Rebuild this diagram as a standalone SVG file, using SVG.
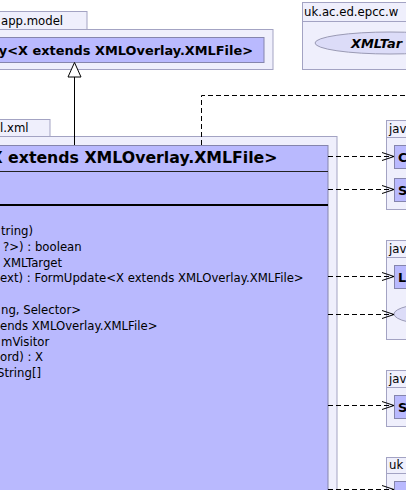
<svg xmlns="http://www.w3.org/2000/svg" width="406" height="490" viewBox="0 0 406 490">
<defs>
<style>
.pkg{fill:#efeffc;stroke:#a3a3c3;stroke-width:1}
.cls{fill:#b9b9fe;stroke:#8585ad;stroke-width:1}
.ell{fill:#dcdcf8;stroke:#9a9ab4;stroke-width:1}
.t{font-family:"DejaVu Sans","Liberation Sans",sans-serif;fill:#000}
.reg{font-size:11.7px}
.bold{font-weight:bold}
.dash{fill:none;stroke:#000;stroke-width:1;stroke-dasharray:5,3}
.solid{fill:none;stroke:#000;stroke-width:1}
</style>
<marker id="open" markerUnits="userSpaceOnUse" markerWidth="14" markerHeight="10" refX="12" refY="4.5" orient="auto">
<path d="M0,0.5 L12,4.5 L0,8.5" fill="none" stroke="#000" stroke-width="1"/>
</marker>
</defs>

<g id="pkg-app-model">
<rect class="pkg" x="-1" y="11.5" width="88" height="18"/>
<rect class="pkg" x="-1" y="29.5" width="274" height="40"/>
<text class="t reg" x="1" y="24.5">app.model</text>
</g>
<g id="class-overlay">
<rect class="cls" x="-1" y="37.5" width="265" height="25"/>
<text class="t bold" font-size="12.9" x="253" y="54.5" text-anchor="end">y&lt;X extends XMLOverlay.XMLFile&gt;</text>
</g>

<g id="pkg-uk-xmltarget">
<rect class="pkg" x="302.5" y="2.5" width="120" height="19"/>
<rect class="pkg" x="302.5" y="21.5" width="120" height="48"/>
<text class="t reg" x="304" y="16">uk.ac.ed.epcc.w</text>
<ellipse class="ell" cx="390" cy="43" rx="75" ry="11"/>
<text class="t bold" font-size="12.9" font-style="italic" x="351" y="47.5">XMLTar</text>
</g>

<g id="pkg-xml">
<rect class="pkg" x="-1" y="119.5" width="51" height="17"/>
<rect class="pkg" x="-1" y="136.5" width="338" height="370"/>
<text class="t reg" x="0" y="132">l.xml</text>
</g>
<g id="class-main">
<rect class="cls" x="-1" y="145.5" width="329" height="360"/>
<line x1="-1" y1="171.5" x2="328" y2="171.5" stroke="#222" stroke-width="1"/>
<line x1="-1" y1="205" x2="328" y2="205" stroke="#000" stroke-width="2"/>
<text class="t bold" font-size="15.75" x="277.5" y="163" text-anchor="end">X extends XMLOverlay.XMLFile&gt;</text>
<text class="t reg" x="1" y="234.9">tring)</text>
<text class="t reg" x="3" y="250.7">?&gt;) : boolean</text>
<text class="t reg" x="3" y="266.5">XMLTarget</text>
<text class="t reg" x="0" y="282.3">ext) : FormUpdate&lt;X extends XMLOverlay.XMLFile&gt;</text>
<text class="t reg" x="1" y="313.9">ng, Selector&gt;</text>
<text class="t reg" x="0" y="329.7">ends XMLOverlay.XMLFile&gt;</text>
<text class="t reg" x="1" y="345.5">mVisitor</text>
<text class="t reg" x="0" y="361.3">ord) : X</text>
<text class="t reg" x="-3" y="377.1">String[]</text>
</g>

<g id="pkg-jav-1">
<rect class="pkg" x="386.5" y="120.5" width="40" height="17"/>
<rect class="pkg" x="386.5" y="137.5" width="40" height="72"/>
<text class="t reg" x="389" y="133">jav</text>
<rect class="cls" x="394.5" y="145.5" width="30" height="23"/>
<text class="t bold" font-size="12.9" x="398" y="162">C</text>
<rect class="cls" x="394.5" y="178.5" width="30" height="23"/>
<text class="t bold" font-size="12.9" x="398" y="195">S</text>
</g>

<g id="pkg-jav-2">
<rect class="pkg" x="386.5" y="240.5" width="40" height="17"/>
<rect class="pkg" x="386.5" y="257.5" width="40" height="82"/>
<text class="t reg" x="389" y="253">jav</text>
<rect class="cls" x="394.5" y="265.5" width="30" height="23"/>
<text class="t bold" font-size="12.9" x="398" y="282">L</text>
<ellipse class="ell" cx="440" cy="314" rx="46" ry="11"/>
</g>

<g id="pkg-jav-3">
<rect class="pkg" x="386.5" y="370.5" width="40" height="17"/>
<rect class="pkg" x="386.5" y="387.5" width="40" height="39"/>
<text class="t reg" x="389" y="383">jav</text>
<rect class="cls" x="394.5" y="395.5" width="30" height="23"/>
<text class="t bold" font-size="12.9" x="398" y="412">S</text>
</g>

<g id="pkg-uk-2">
<rect class="pkg" x="386.5" y="457.5" width="40" height="16"/>
<rect class="pkg" x="386.5" y="473.5" width="40" height="30"/>
<text class="t reg" x="389" y="469">uk</text>
<rect class="cls" x="394.5" y="481.5" width="30" height="23"/>
</g>

<g id="connectors">
<line class="solid" x1="74.5" y1="145" x2="74.5" y2="77"/>
<polygon points="74.5,62.5 81,77 68,77" fill="#fff" stroke="#000" stroke-width="1"/>
<polyline class="dash" points="201.5,145 201.5,95.5 410,95.5"/>
<line class="dash" x1="328" y1="156.5" x2="394" y2="156.5" marker-end="url(#open)"/>
<line class="dash" x1="328" y1="189.5" x2="394" y2="189.5" marker-end="url(#open)"/>
<line class="dash" x1="328" y1="276.5" x2="394" y2="276.5" marker-end="url(#open)"/>
<line class="dash" x1="328" y1="314.5" x2="394" y2="314.5" marker-end="url(#open)"/>
<line class="dash" x1="328" y1="405.5" x2="394" y2="405.5" marker-end="url(#open)"/>
<line class="dash" x1="328" y1="489.5" x2="394" y2="489.5" marker-end="url(#open)"/>
</g>
</svg>
